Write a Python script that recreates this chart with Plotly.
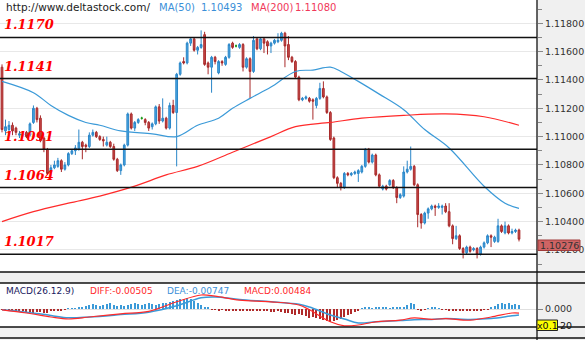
import plotly.graph_objects as go

# ---------------- data ----------------
opens = [1.1149,1.1104,1.1105,1.1108,1.1106,1.1101,1.1101,1.1103,1.1101,1.1110,
         1.1120,1.1113,1.1099,1.1091,1.1075,1.1078,1.1079,1.1083,1.1077,1.1080,
         1.1088,1.1090,1.1091,1.1096,1.1094,1.1093,1.1101,1.1103,1.1100,1.1098,
         1.1094,1.1096,1.1093,1.1084,1.1076,1.1080,1.1094,1.1116,1.1106,1.1110,
         1.1113,1.1112,1.1110,1.1107,1.1109,1.1121,1.1111,1.1113,1.1106,1.1122,
         1.1117,1.1144,1.1153,1.1152,1.1166,1.1169,1.1161,1.1163,1.1172,1.1152,
         1.1149,1.1156,1.1145,1.1153,1.1151,1.1156,1.1166,1.1164,1.1163,1.1165,
         1.1149,1.1155,1.1146,1.1169,1.1162,1.1169,1.1167,1.1164,1.1166,1.1167,
         1.1168,1.1173,1.1165,1.1156,1.1153,1.1142,1.1126,1.1127,1.1127,1.1126,
         1.1122,1.1127,1.1134,1.1128,1.1117,1.1099,1.1071,1.1067,1.1064,1.1074,
         1.1073,1.1074,1.1074,1.1075,1.1079,1.1091,1.1082,1.1087,1.1073,1.1063,
         1.1065,
         1.1066,1.1069,1.1064,1.1057,1.1058,1.1075,1.1077,1.1079,1.1066,1.1045,
         1.1039,1.1046,1.1049,1.1051,1.1050,1.1050,1.1051,1.1047,1.1037,1.1028,
         1.1030,1.1021,1.1018,1.1022,1.1020,1.1021,1.1017,1.1022,1.1025,1.1030,
         1.1026,1.1026,1.1037,1.1032,1.1037,1.1032,1.1033,1.1034]
closes = [1.1105,1.1107,1.1108,1.1104,1.1103,1.1102,1.1102,1.1100,1.1109,1.1120,
          1.1112,1.1097,1.1091,1.1074,1.1078,1.1080,1.1083,1.1077,1.1080,1.1088,
          1.1090,1.1092,1.1096,1.1093,1.1093,1.1101,1.1103,1.1100,1.1098,1.1097,
          1.1096,1.1093,1.1084,1.1076,1.1080,1.1094,1.1116,1.1106,1.1110,1.1112,
          1.1113,1.1110,1.1106,1.1109,1.1121,1.1111,1.1113,1.1106,1.1122,1.1117,
          1.1144,1.1152,1.1152,1.1166,1.1169,1.1161,1.1163,1.1165,1.1151,1.1149,
          1.1156,1.1153,1.1153,1.1152,1.1156,1.1165,1.1163,1.1164,1.1165,1.1149,
          1.1155,1.1146,1.1168,1.1162,1.1169,1.1166,1.1164,1.1166,1.1168,1.1168,
          1.1173,1.1164,1.1156,1.1153,1.1142,1.1126,1.1127,1.1128,1.1125,1.1125,
          1.1127,1.1134,1.1128,1.1117,1.1098,1.1071,1.1067,1.1064,1.1074,1.1073,
          1.1074,1.1075,1.1076,1.1079,1.1091,1.1082,1.1087,1.1073,1.1065,1.1065,
          1.1063,
          1.1069,1.1064,1.1057,1.1059,1.1075,1.1077,1.1079,1.1066,1.1045,1.1039,
          1.1046,1.1049,1.1051,1.1050,1.1051,1.1051,1.1047,1.1037,1.1028,1.1030,
          1.1021,1.1018,1.1022,1.1019,1.1021,1.1017,1.1022,1.1025,1.1030,1.1029,
          1.1029,1.1037,1.1033,1.1037,1.1032,1.1033,1.1034,1.10276]
highs = [1.1151,1.1112,1.1111,1.1110,1.1107,1.1104,1.1103,1.1104,1.1110,1.1122,
         1.1121,1.1115,1.1100,1.1092,1.1080,1.1083,1.1085,1.1084,1.1082,1.1089,
         1.1091,1.1094,1.1105,1.1097,1.1095,1.1103,1.1105,1.1104,1.1101,1.1100,
         1.1100,1.1097,1.1095,1.1085,1.1081,1.1095,1.1117,1.1117,1.1111,1.1113,
         1.1114,1.1113,1.1111,1.1110,1.1122,1.1123,1.1127,1.1114,1.1124,1.1126,
         1.1145,1.1153,1.1156,1.1167,1.1170,1.1170,1.1164,1.1175,1.1174,1.1153,
         1.1157,1.1157,1.1154,1.1154,1.1157,1.1166,1.1167,1.1165,1.1166,1.1166,
         1.1156,1.1156,1.1171,1.1170,1.1170,1.1170,1.1168,1.1167,1.1169,1.1173,
         1.1174,1.1174,1.1171,1.1157,1.1154,1.1143,1.1128,1.1129,1.1128,1.1127,
         1.1128,1.1138,1.1139,1.1129,1.1118,1.1100,1.1072,1.1068,1.1075,1.1075,
         1.1075,1.1076,1.1077,1.1080,1.1092,1.1092,1.1088,1.1088,1.1074,1.1066,
         1.1066,
         1.1070,1.1070,1.1065,1.1060,1.1079,1.1083,1.1093,1.1080,1.1067,1.1046,
         1.1047,1.1050,1.1052,1.1052,1.1053,1.1052,1.1053,1.1053,1.1038,1.1037,
         1.1031,1.1022,1.1023,1.1023,1.1022,1.1022,1.1023,1.1026,1.1031,1.1031,
         1.1030,1.1042,1.1038,1.1040,1.1038,1.1035,1.1035,1.1035]
lows = [1.1103,1.1101,1.1102,1.1101,1.1101,1.1099,1.1100,1.1099,1.1100,1.1109,
        1.1110,1.1096,1.1089,1.1073,1.1072,1.1077,1.1078,1.1075,1.1076,1.1079,
        1.1087,1.1087,1.1090,1.1084,1.1089,1.1092,1.1100,1.1099,1.1097,1.1093,
        1.1093,1.1092,1.1083,1.1075,1.1073,1.1079,1.1093,1.1105,1.1104,1.1109,
        1.1112,1.1108,1.1104,1.1105,1.1108,1.1109,1.1110,1.1105,1.1105,1.1116,
        1.1079,1.1143,1.1151,1.1151,1.1164,1.1160,1.1158,1.1162,1.1150,1.1144,
        1.1131,1.1151,1.1144,1.1150,1.1150,1.1155,1.1162,1.1163,1.1162,1.1146,
        1.1148,1.1127,1.1145,1.1161,1.1161,1.1159,1.1158,1.1159,1.1165,1.1166,
        1.1167,1.1149,1.1154,1.1152,1.1141,1.1125,1.1125,1.1126,1.1124,1.1112,
        1.1120,1.1126,1.1127,1.1116,1.1097,1.1070,1.1064,1.1062,1.1063,1.1072,
        1.1072,1.1073,1.1068,1.1074,1.1078,1.1081,1.1081,1.1072,1.1064,1.1062,
        1.1062,
        1.1065,1.1063,1.1053,1.1056,1.1057,1.1074,1.1076,1.1065,1.1036,1.1035,
        1.1038,1.1042,1.1048,1.1044,1.1049,1.1045,1.1046,1.1036,1.1024,1.1027,
        1.1020,1.1014,1.1017,1.1018,1.1019,1.1014,1.1016,1.1021,1.1024,1.1022,
        1.1025,1.1025,1.1032,1.1031,1.1031,1.1031,1.1032,1.1026]

ma50_idx = [0, 9, 14, 19, 24, 28, 34, 43, 50, 56, 62, 66, 71, 77, 84, 89, 94, 97,
            102, 108, 115, 121, 128, 138, 144, 148]
ma50_val = [1.1139, 1.1131, 1.1122, 1.1115, 1.1110, 1.1108, 1.1104, 1.1102, 1.1100,
            1.1108, 1.1113, 1.1120, 1.1127, 1.1135, 1.1146, 1.1147, 1.1149, 1.1146,
            1.1139, 1.1130, 1.1119, 1.1105, 1.1092, 1.1065, 1.1053, 1.10493]
ma200_idx = [0, 9, 19, 28, 38, 47, 56, 66, 77, 84, 94, 103, 115, 127, 138, 148]
ma200_val = [1.1040, 1.1047, 1.1053, 1.1058, 1.1065, 1.1073, 1.1079, 1.1089, 1.1100,
             1.1107, 1.1110, 1.1113, 1.1115, 1.1116, 1.1114, 1.11080]

levels = [1.1170, 1.1141, 1.1091, 1.1064, 1.1017]
level_labels = ["1.1170", "1.1141", "1.1091", "1.1064", "1.1017"]

macd_hist = [-1,-1,-2,-2,-2,-2,
             -3,-4,-4,-5,-4,-4,-5,-5,
             -3,-2,-2,-2,-1,
             0.5,1,1,
             2,3,4,5,6,5,4,5,6,7,5,4,5,4,
             5,6,7,6,5,6,7,6,5,6,7,8,9,
             10,11,12,13,14,12,10,8,
             5,3,2,
             -1,-1,-2,-1,-2,-2,-3,-2,-2,-3,-3,-2,-3,-3,-2,-3,-3,-4,-4,-3,-4,-5,-5,-6,-7,
             -6,-8,-9,-11,-10,-11,
             -12,-14,-15,-16,-15,-14,-13,
             -10,-8,-6,-4,-2,
             1,2,2,1,2,2,3,2,1,2,2,3,2,
             5,7,6,
             -1,-2,-1,
             1,2,2,1,-1,-1,
             -2,-3,-3,-2,-3,-3,-2,-3,-2,-2,-1,-1,
             3,4,6,7,6,7,5,6,4.84]   # in units of 0.001
diff_idx = [0, 7, 14, 19, 25, 34, 42, 50, 57, 61, 68, 77, 85, 88, 94, 98, 102, 107,
            114, 118, 123, 127, 134, 140, 146, 148]
diff_val = [-0.001, -0.005, -0.010, -0.0125, -0.010, -0.006, -0.003, 0.009, 0.0175,
            0.016, 0.011, 0.009, 0.005, -0.001, -0.016, -0.021, -0.020, -0.016,
            -0.014, -0.011, -0.013, -0.012, -0.014, -0.010, -0.005, -0.00505]
dea_val = [-0.001, -0.004, -0.008, -0.011, -0.010, -0.007, -0.004, 0.004, 0.014,
           0.015, 0.012, 0.009, 0.006, 0.0025, -0.0075, -0.0125, -0.0175, -0.016,
           -0.0145, -0.0135, -0.013, -0.012, -0.013, -0.012, -0.0085, -0.00747]

# ---------------- figure ----------------
W, H = 585, 340
PX = lambda p: p / W
PY = lambda p: 1 - p / H
XR = 537  # right axis panel start

idx = list(range(len(opens)))
reg = [i for i in idx if opens[i] != closes[i]]
doj = [i for i in idx if opens[i] == closes[i]]

fig = go.Figure()
fig.add_trace(go.Candlestick(
    x=reg, open=[opens[i] for i in reg], high=[highs[i] for i in reg],
    low=[lows[i] for i in reg], close=[closes[i] for i in reg],
    increasing=dict(fillcolor="#4aa6e0", line=dict(color="#2a86c8", width=1)),
    decreasing=dict(fillcolor="#c84a4a", line=dict(color="#a82a2a", width=1)),
    whiskerwidth=0, showlegend=False, hoverinfo="skip"))
if doj:
    fig.add_trace(go.Candlestick(
        x=doj, open=[opens[i] for i in doj], high=[highs[i] for i in doj],
        low=[lows[i] for i in doj], close=[closes[i] for i in doj],
        increasing=dict(fillcolor="#1a9a1a", line=dict(color="#1a9a1a", width=1)),
        decreasing=dict(fillcolor="#1a9a1a", line=dict(color="#1a9a1a", width=1)),
        whiskerwidth=0, showlegend=False, hoverinfo="skip"))
fig.add_trace(go.Scatter(x=ma50_idx, y=ma50_val, mode="lines",
                         line=dict(color="#3b9ad8", width=1.2, shape="spline"),
                         showlegend=False, hoverinfo="skip"))
fig.add_trace(go.Scatter(x=ma200_idx, y=ma200_val, mode="lines",
                         line=dict(color="#ff2a2a", width=1.2, shape="spline"),
                         showlegend=False, hoverinfo="skip"))

# MACD panel
hv = [v * 0.001 for v in macd_hist]
fig.add_trace(go.Bar(x=idx, y=hv, width=0.3,
                     marker=dict(color=["#3b9ad8" if v >= 0 else "#b02a2a" for v in hv],
                                 line=dict(width=0)),
                     xaxis="x2", yaxis="y2", showlegend=False, hoverinfo="skip"))
fig.add_trace(go.Scatter(x=diff_idx, y=dea_val, mode="lines",
                         line=dict(color="#3b9ad8", width=1.5, shape="spline"),
                         xaxis="x2", yaxis="y2", showlegend=False, hoverinfo="skip"))
fig.add_trace(go.Scatter(x=diff_idx, y=diff_val, mode="lines",
                         line=dict(color="#ff2a2a", width=1.2, shape="spline"),
                         xaxis="x2", yaxis="y2", showlegend=False, hoverinfo="skip"))

n = len(opens)
sp = (519 - 2) / (n - 1)
xr = [-2 / sp, (XR - 2) / sp]

shapes = []
shapes.append(dict(type="rect", xref="paper", yref="paper", x0=PX(XR), x1=1, y0=0, y1=1,
                   fillcolor="#f0f0f0", line=dict(width=0), layer="below"))
for a, b in [(272, 283), (327, 340)]:
    shapes.append(dict(type="rect", xref="paper", yref="paper", x0=0, x1=1, y0=PY(b), y1=PY(a),
                       fillcolor="#f0f0f0", line=dict(width=0), layer="below"))
for yy in [272, 283, 327, 338]:
    shapes.append(dict(type="line", xref="paper", yref="paper", x0=0, x1=1, y0=PY(yy), y1=PY(yy),
                       line=dict(color="#111", width=1.3)))
shapes.append(dict(type="line", xref="paper", yref="paper", x0=PX(XR), x1=PX(XR), y0=0, y1=1,
                   line=dict(color="#111", width=1.3)))
for lv in levels:
    shapes.append(dict(type="line", xref="paper", yref="y", x0=0, x1=PX(XR), y0=lv, y1=lv,
                       line=dict(color="#111", width=1.5)))
last = closes[-1]
shapes.append(dict(type="rect", xref="paper", yref="paper", x0=PX(538), x1=PX(580),
                   y0=PY(250.5), y1=PY(240), fillcolor="#cf6464",
                   line=dict(color="#a03a3a", width=1), layer="above"))
shapes.append(dict(type="rect", xref="paper", yref="paper", x0=PX(537), x1=PX(557.5),
                   y0=PY(330.5), y1=PY(320), fillcolor="#ffff00",
                   line=dict(color="#222", width=1), layer="above"))

ann = []
for lv, lab in zip(levels, level_labels):
    ann.append(dict(xref="paper", yref="y", x=PX(2), y=lv, yanchor="bottom", xanchor="left",
                    yshift=3, text="<b><i>%s</i></b>" % lab, showarrow=False,
                    font=dict(family="DejaVu Serif", size=13, color="#ff0000")))

def txt(x, y, s, color, size=10, family="DejaVu Sans", anchor="left"):
    ann.append(dict(xref="paper", yref="paper", x=PX(x), y=PY(y), xanchor=anchor,
                    yanchor="middle", text=s, showarrow=False,
                    font=dict(family=family, size=size, color=color)))

txt(4, 7, "http://www.deltastock.com/", "#222", size=10.5)
txt(157, 7, "MA(50)", "#3b8fd8")
txt(199, 7, "%.5f" % ma50_val[-1], "#3b8fd8")
txt(249, 7, "MA(200)", "#f0385a")
txt(293, 7, "%.5f" % ma200_val[-1], "#f0385a")

txt(4, 290.5, "MACD(26.12.9)", "#1a1a60", size=9)
txt(88, 290.5, "DIFF:%.5f" % diff_val[-1], "#ff2a2a", size=9)
txt(165, 290.5, "DEA:%.5f" % dea_val[-1], "#3b8fd8", size=9)
txt(242, 290.5, "MACD:%.5f" % (macd_hist[-1] * 0.001), "#ff2a2a", size=9)

txt(559, 245.2, "%.5f" % last, "#333", size=9.5, anchor="center")
txt(547, 325.3, "x0.1", "#111", size=9.5, anchor="center")
txt(558, 325.3, "20", "#111", size=9.5)

fig.update_layout(
    width=W, height=H, margin=dict(l=0, r=0, t=0, b=0),
    paper_bgcolor="white", plot_bgcolor="rgba(0,0,0,0)",
    shapes=shapes, annotations=ann, bargap=0,
    xaxis=dict(domain=[0, PX(XR)], range=xr, visible=False, rangeslider=dict(visible=False),
               anchor="y"),
    yaxis=dict(domain=[PY(271), 1], range=[1.118 - (271 - 23.3) * 0.0000706,
                                            1.118 + 23.3 * 0.0000706],
               side="right", anchor="x", tick0=1.100, dtick=0.002, tickformat=".5f",
               ticks="outside", ticklen=5, tickcolor="#888", showgrid=True,
               gridcolor="#e8e8e8", gridwidth=1, zeroline=False, showline=False,
               tickfont=dict(family="DejaVu Sans", size=9.5, color="#333"),
               minor=dict(dtick=0.001, ticks="outside", ticklen=4, tickcolor="#888",
                          showgrid=False)),
    xaxis2=dict(domain=[0, PX(XR)], range=xr, visible=False, anchor="y2"),
    yaxis2=dict(domain=[PY(327), PY(283)], range=[-0.0225, 0.0325], side="right",
                anchor="x2", tickvals=[0], ticktext=["0.000"], ticks="outside", ticklen=5,
                tickcolor="#888", showgrid=True, gridcolor="#e0e0e0", zeroline=False,
                tickfont=dict(family="DejaVu Sans", size=9.5, color="#333")),
)

fig.write_html("out.html")
